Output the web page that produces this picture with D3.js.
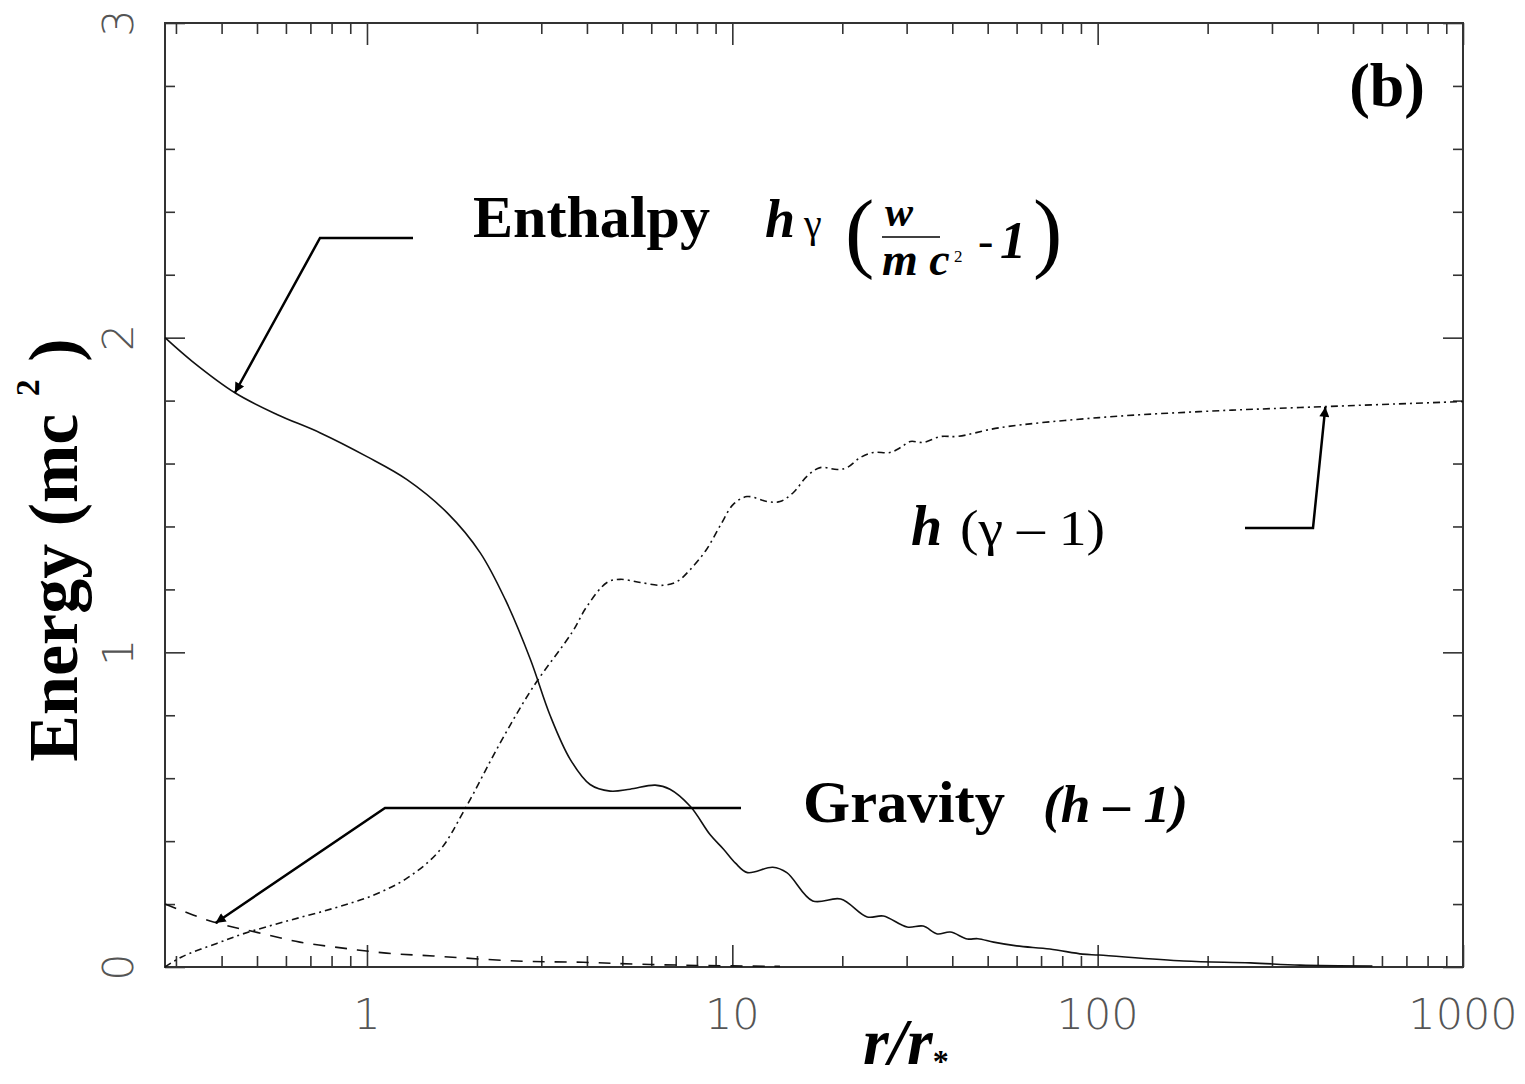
<!DOCTYPE html>
<html>
<head>
<meta charset="utf-8">
<script src="https://cdn.jsdelivr.net/npm/d3@7"></script>
<style>
  body { margin: 0; background: #fff; }
  svg { display: block; }
  .tick-label { font-family: "DejaVu Sans", sans-serif; font-weight: 200; font-size: 43px; fill: #555; }
  .serif { font-family: "Liberation Serif", "Times New Roman", serif; fill: #000; }
</style>
</head>
<body>
<svg id="chart"></svg>
<script>
// Enthalpy  h*gamma*(w/mc^2 - 1)   (solid)
const enthR = [0.28, 0.333, 0.435, 0.567, 0.743, 1.0, 1.287, 1.656, 2.04, 2.39, 2.8, 3.17, 3.6, 4.08, 4.63, 5.25, 6.15, 6.75, 7.68, 8.7, 9.45, 10.2, 11.0, 12.9, 14.1, 16.6, 19.8, 23.4, 25.9, 30.1, 33.3, 36.4, 39.5, 44, 47, 51.9, 60, 74, 91, 101, 172, 262, 358, 565];
const enthE = [2.0, 1.924, 1.825, 1.756, 1.698, 1.622, 1.549, 1.444, 1.317, 1.168, 0.978, 0.80, 0.66, 0.58, 0.559, 0.565, 0.578, 0.565, 0.51, 0.42, 0.375, 0.33, 0.30, 0.317, 0.30, 0.21, 0.216, 0.159, 0.162, 0.127, 0.13, 0.105, 0.111, 0.089, 0.09, 0.079, 0.067, 0.057, 0.041, 0.038, 0.019, 0.013, 0.006, 0.003];

// Gravity  (h - 1)   (dashed)
const gravR = [0.28, 0.38, 0.50, 0.655, 0.86, 1.13, 1.52, 2.57, 3.9, 5.5, 8, 13.5];
const gravE = [0.2, 0.143, 0.11, 0.079, 0.06, 0.044, 0.035, 0.019, 0.015, 0.009, 0.005, 0.002];

// Kinetic  h*(gamma - 1)   (dash-dot)
const kinR = [0.28, 0.311, 0.388, 0.457, 0.604, 0.807, 1.04, 1.29, 1.58, 1.85, 2.31, 2.85, 3.64, 4.0, 4.54, 4.93, 5.6, 6.47, 7.06, 7.67, 8.5, 9.3, 10.06, 10.97, 12.5, 13.5, 14.7, 16.0, 17.4, 19.4, 20.6, 22.4, 24.3, 27.0, 28.9, 30.7, 33.3, 37.2, 41.3, 54, 101, 190, 358, 1000];
const kinE = [0.0, 0.032, 0.075, 0.105, 0.146, 0.186, 0.228, 0.283, 0.37, 0.5, 0.71, 0.89, 1.063, 1.146, 1.222, 1.232, 1.222, 1.213, 1.225, 1.263, 1.327, 1.406, 1.47, 1.495, 1.479, 1.479, 1.508, 1.559, 1.587, 1.581, 1.587, 1.619, 1.635, 1.635, 1.651, 1.67, 1.667, 1.686, 1.686, 1.714, 1.746, 1.765, 1.778, 1.797];

const xMajor = [1, 10, 100, 1000];
const yMajor = [0, 1, 2, 3];
const yMinor = [0.2, 0.4, 0.6, 0.8, 1.2, 1.4, 1.6, 1.8, 2.2, 2.4, 2.6, 2.8];

const width = 1525, height = 1084;
const margin = { left: 165, right: 62, top: 23, bottom: 117 };
const innerW = width - margin.left - margin.right;
const innerH = height - margin.top - margin.bottom;

const svg = d3.select("#chart").attr("width", width).attr("height", height);
const g = svg.append("g").attr("transform", `translate(${margin.left},${margin.top})`);

const x = d3.scaleLog().domain([0.28, 1000]).range([0, innerW]);
const y = d3.scaleLinear().domain([0, 3]).range([innerH, 0]);

// minor x ticks: 2..9 in each decade inside the domain
const xMinor = [];
[0.1, 1, 10, 100].forEach(d => {
    for (let k = 2; k <= 9; k++) {
        const v = d * k;
        if (v > 0.28 && v < 1000) xMinor.push(v);
    }
});

// ---- axes (ticks drawn inward on all four sides)
function styleAxis(sel) {
    sel.select(".domain").remove();
    sel.selectAll(".tick line").attr("stroke", "#333").attr("stroke-width", 1.6);
}
g.append("g").attr("transform", `translate(0,${innerH})`)
    .call(d3.axisBottom(x).tickValues(xMinor).tickSize(-11).tickFormat("")).call(styleAxis);
g.append("g").attr("transform", `translate(0,${innerH})`)
    .call(d3.axisBottom(x).tickValues(xMajor).tickSize(-22).tickFormat("")).call(styleAxis);
g.append("g")
    .call(d3.axisTop(x).tickValues(xMinor).tickSize(-11).tickFormat("")).call(styleAxis);
g.append("g")
    .call(d3.axisTop(x).tickValues(xMajor).tickSize(-22).tickFormat("")).call(styleAxis);
g.append("g")
    .call(d3.axisLeft(y).tickValues(yMinor).tickSize(-10).tickFormat("")).call(styleAxis);
g.append("g")
    .call(d3.axisLeft(y).tickValues(yMajor).tickSize(-20).tickFormat("")).call(styleAxis);
g.append("g").attr("transform", `translate(${innerW},0)`)
    .call(d3.axisRight(y).tickValues(yMinor).tickSize(-10).tickFormat("")).call(styleAxis);
g.append("g").attr("transform", `translate(${innerW},0)`)
    .call(d3.axisRight(y).tickValues(yMajor).tickSize(-20).tickFormat("")).call(styleAxis);

g.append("rect").attr("width", innerW).attr("height", innerH)
    .attr("fill", "none").attr("stroke", "#333").attr("stroke-width", 2);

// tick labels
g.append("g").selectAll("text").data(xMajor).join("text")
    .attr("class", "tick-label")
    .attr("x", d => x(d)).attr("y", innerH + 62)
    .attr("text-anchor", "middle")
    .text(d => d);
g.append("g").selectAll("text").data(yMajor).join("text")
    .attr("class", "tick-label")
    .attr("transform", d => `translate(-47,${y(d)}) rotate(-90)`)
    .attr("text-anchor", "middle").attr("dy", "0.36em")
    .text(d => d);

// ---- curves
const line = d3.line().x(d => x(d[0])).y(d => y(d[1])).curve(d3.curveCatmullRom.alpha(0.5));
const zip = (a, b) => a.map((v, i) => [v, b[i]]);

g.append("path").datum(zip(enthR, enthE)).attr("d", line)
    .attr("fill", "none").attr("stroke", "#111").attr("stroke-width", 1.6);
g.append("path").datum(zip(gravR, gravE)).attr("d", line)
    .attr("fill", "none").attr("stroke", "#111").attr("stroke-width", 1.6)
    .attr("stroke-dasharray", "12,10");
g.append("path").datum(zip(kinR, kinE)).attr("d", line)
    .attr("fill", "none").attr("stroke", "#111").attr("stroke-width", 1.6)
    .attr("stroke-dasharray", "7,4,2,4");

// ---- arrows
svg.append("defs").append("marker")
    .attr("id", "head")
    .attr("viewBox", "0 -5 10 10")
    .attr("refX", 10).attr("refY", 0)
    .attr("markerWidth", 5).attr("markerHeight", 4)
    .attr("markerUnits", "strokeWidth")
    .attr("orient", "auto")
    .append("path").attr("d", "M0,-5L10,0L0,5Z").attr("fill", "#000");

// each arrow: label end -> elbow -> point on the curve
const arrows = [
    { pts: [[413, 238], [320, 238]], tip: [0.435, 1.825] },
    { pts: [[741, 808], [385, 808]], tip: [0.385, 0.14] },
    { pts: [[1245, 528], [1313, 528]], tip: [420, 1.78] }
];
arrows.forEach(a => {
    const p = a.pts.concat([[x(a.tip[0]) + margin.left, y(a.tip[1]) + margin.top]]);
    svg.append("path").attr("d", d3.line()(p))
        .attr("fill", "none").attr("stroke", "#000").attr("stroke-width", 2.5)
        .attr("marker-end", "url(#head)");
});

// ---- annotations
svg.append("text").attr("class", "serif")
    .attr("x", 1425).attr("y", 106).attr("text-anchor", "end")
    .attr("font-size", 62).attr("font-weight", "bold").text("(b)");

svg.append("text").attr("class", "serif")
    .attr("x", 473).attr("y", 237).attr("font-size", 60).attr("font-weight", "bold")
    .attr("textLength", 237).attr("lengthAdjust", "spacingAndGlyphs").text("Enthalpy");

// h gamma ( w / m c^2 - 1 )
const f = svg.append("g").attr("class", "formula");
f.append("text").attr("class", "serif").attr("x", 765).attr("y", 237)
    .attr("font-size", 54).attr("font-weight", "bold").attr("font-style", "italic").text("h");
f.append("text").attr("class", "serif").attr("x", 804).attr("y", 237)
    .attr("font-size", 40).text("γ");
f.append("text").attr("class", "serif").attr("x", 845).attr("y", 261)
    .attr("font-size", 88).text("(");
f.append("text").attr("class", "serif").attr("x", 885).attr("y", 226)
    .attr("font-size", 42).attr("font-weight", "bold").attr("font-style", "italic").text("w");
f.append("line").attr("x1", 882).attr("x2", 940).attr("y1", 237).attr("y2", 237)
    .attr("stroke", "#000").attr("stroke-width", 1.5);
f.append("text").attr("class", "serif").attr("x", 882).attr("y", 275)
    .attr("font-size", 46).attr("font-weight", "bold").attr("font-style", "italic").text("m c");
f.append("text").attr("class", "serif").attr("x", 954).attr("y", 262)
    .attr("font-size", 17).text("2");
f.append("text").attr("class", "serif").attr("x", 978).attr("y", 256)
    .attr("font-size", 46).text("-");
f.append("text").attr("class", "serif").attr("x", 1000).attr("y", 258)
    .attr("font-size", 52).attr("font-weight", "bold").attr("font-style", "italic").text("1");
f.append("text").attr("class", "serif").attr("x", 1033).attr("y", 261)
    .attr("font-size", 88).text(")");

svg.append("text").attr("class", "serif")
    .attr("x", 803).attr("y", 822).attr("font-size", 60).attr("font-weight", "bold")
    .attr("textLength", 202).attr("lengthAdjust", "spacingAndGlyphs").text("Gravity");
svg.append("text").attr("class", "serif")
    .attr("x", 1043).attr("y", 822).attr("font-size", 52).attr("font-weight", "bold")
    .attr("font-style", "italic").attr("textLength", 145).attr("lengthAdjust", "spacingAndGlyphs")
    .text("(h – 1)");

svg.append("text").attr("class", "serif")
    .attr("x", 911).attr("y", 545).attr("font-size", 56).attr("font-weight", "bold")
    .attr("font-style", "italic").text("h");
svg.append("text").attr("class", "serif")
    .attr("x", 960).attr("y", 545).attr("font-size", 50)
    .attr("textLength", 145).attr("lengthAdjust", "spacingAndGlyphs").text("(γ – 1)");

// axis titles
const xt = svg.append("text").attr("class", "serif")
    .attr("x", 863).attr("y", 1064).attr("font-size", 66)
    .attr("font-weight", "bold").attr("font-style", "italic");
xt.append("tspan").text("r/r");
xt.append("tspan").attr("font-size", 32).attr("font-style", "normal").attr("dy", 8).text("*");

const yt = svg.append("text").attr("class", "serif")
    .attr("transform", "translate(77,550) rotate(-90)")
    .attr("text-anchor", "middle").attr("font-size", 70).attr("font-weight", "bold");
yt.append("tspan").text("Energy (mc ");
yt.append("tspan").attr("font-size", 34).attr("dy", -38).text("2");
yt.append("tspan").attr("dy", 38).text(" )");
</script>
</body>
</html>
